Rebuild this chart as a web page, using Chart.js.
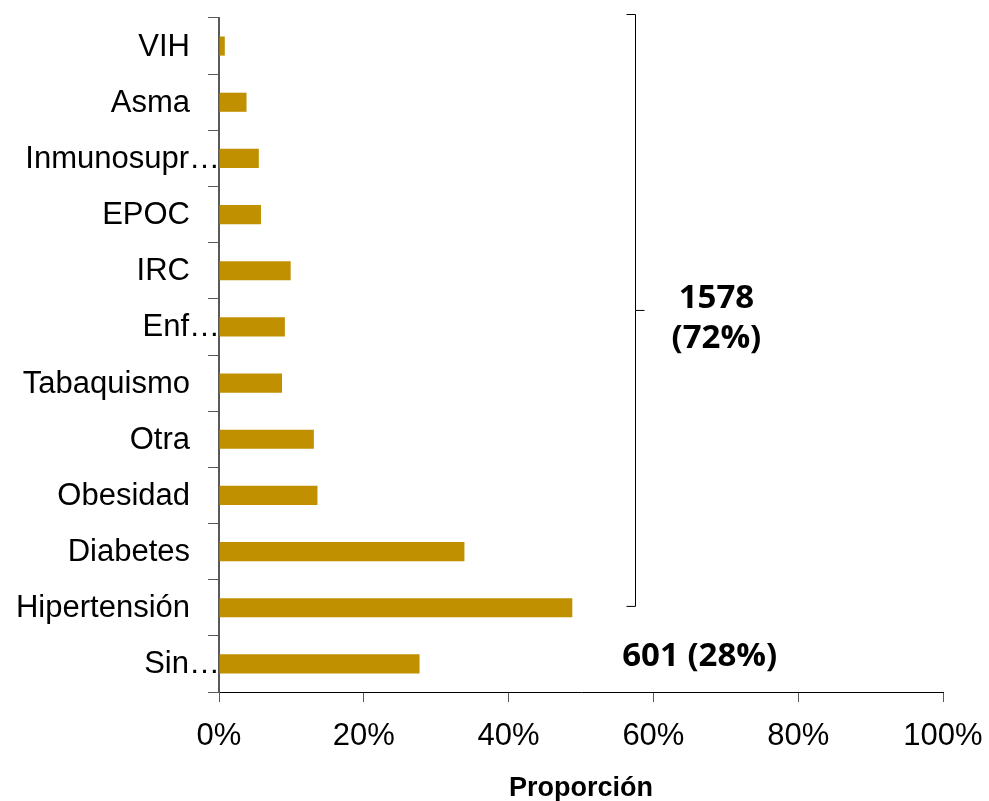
<!DOCTYPE html>
<html>
<head>
<meta charset="utf-8">
<script src="https://cdn.jsdelivr.net/npm/chart.js@4"></script>
<style>
  body { margin: 0; background: #fff; }
</style>
</head>
<body>
<canvas id="chart" width="989" height="801"></canvas>
<script>
// datos
const categorias = ['VIH', 'Asma', 'Inmunosupr…', 'EPOC', 'IRC', 'Enf…', 'Tabaquismo',
                    'Otra', 'Obesidad', 'Diabetes', 'Hipertensión', 'Sin…'];
const proporcion = [0.8, 3.8, 5.5, 5.8, 9.9, 9.1, 8.7, 13.1, 13.6, 33.9, 48.8, 27.7];
const truncadas = ['Inmunosupr…', 'Enf…', 'Sin…'];
const ticksX = [0, 20, 40, 60, 80, 100];
const notaCon = ['1578', '(72%)'];
const notaSin = '601 (28%)';

const COLOR_BARRA = '#C09000';
const COLOR_EJE = '#595959';
const FUENTE = '"Liberation Sans", Arial, sans-serif';

// etiquetas del eje Y dibujadas a mano (las truncadas llegan hasta el eje)
const etiquetasY = {
  id: 'etiquetasY',
  afterDraw(chart) {
    const ctx = chart.ctx;
    const y = chart.scales.y;
    const x0 = chart.chartArea.left;
    ctx.save();
    ctx.font = '31px ' + FUENTE;
    ctx.fillStyle = '#000';
    ctx.textAlign = 'right';
    ctx.textBaseline = 'middle';
    categorias.forEach((c, i) => {
      const px = truncadas.includes(c) ? x0 + 1 : x0 - 29;
      ctx.fillText(c, px, y.getPixelForTick(i) + 1);
    });
    ctx.restore();
  }
};

// llave y anotaciones
const anotaciones = {
  id: 'anotaciones',
  afterDraw(chart) {
    const ctx = chart.ctx;
    const a = chart.chartArea;
    const x = chart.scales.x;
    const h = a.bottom - a.top;
    const bx = Math.round(x.getPixelForValue(57.5)) + 0.5;
    const top = a.top - 3.5;
    const bot = a.top + h * 0.873;
    const mid = (top + bot) / 2;
    ctx.save();
    ctx.strokeStyle = '#000';
    ctx.lineWidth = 1;
    ctx.beginPath();
    ctx.moveTo(bx - 9, top); ctx.lineTo(bx, top); ctx.lineTo(bx, bot); ctx.lineTo(bx - 9, bot);
    ctx.moveTo(bx, mid); ctx.lineTo(bx + 9, mid);
    ctx.stroke();

    ctx.fillStyle = '#000';
    ctx.font = 'bold 33px "Open Sans", sans-serif';
    ctx.textAlign = 'center';
    ctx.textBaseline = 'middle';
    ctx.fillText(notaCon[0], x.getPixelForValue(68.7), mid - 12);
    ctx.fillText(notaCon[1], x.getPixelForValue(68.7), mid + 28);
    ctx.fillText(notaSin, x.getPixelForValue(66.4), chart.scales.y.getPixelForTick(11) - 7);
    ctx.restore();
  }
};

new Chart(document.getElementById('chart'), {
  type: 'bar',
  data: {
    labels: categorias,
    datasets: [{
      data: proporcion,
      backgroundColor: COLOR_BARRA,
      barPercentage: 0.68,
      categoryPercentage: 0.5
    }]
  },
  options: {
    indexAxis: 'y',
    responsive: false,
    animation: false,
    layout: { padding: { left: 208, right: 46, top: 18, bottom: 0 } },
    plugins: { legend: { display: false }, tooltip: { enabled: false } },
    scales: {
      x: {
        min: 0,
        max: 100,
        afterBuildTicks: (s) => { s.ticks = ticksX.map(v => ({ value: v })); },
        afterFit: (s) => { s.height = 109; s.paddingLeft = 0; s.paddingRight = 0; },
        ticks: {
          callback: (v) => v + '%',
          color: '#000',
          padding: 16,
          maxRotation: 0,
          font: { family: FUENTE, size: 31 }
        },
        grid: { drawOnChartArea: false, tickLength: 10, color: COLOR_EJE },
        border: { color: '#000', width: 1 },
        title: {
          display: true,
          text: 'Proporción',
          color: '#000',
          padding: { top: 4, bottom: -4 },
          font: { family: FUENTE, size: 27, weight: 'bold' }
        }
      },
      y: {
        ticks: { display: false },
        grid: { drawOnChartArea: false, tickLength: 11, color: COLOR_EJE, offset: true },
        border: { color: COLOR_EJE, width: 2 }
      }
    }
  },
  plugins: [etiquetasY, anotaciones]
});
</script>
</body>
</html>
